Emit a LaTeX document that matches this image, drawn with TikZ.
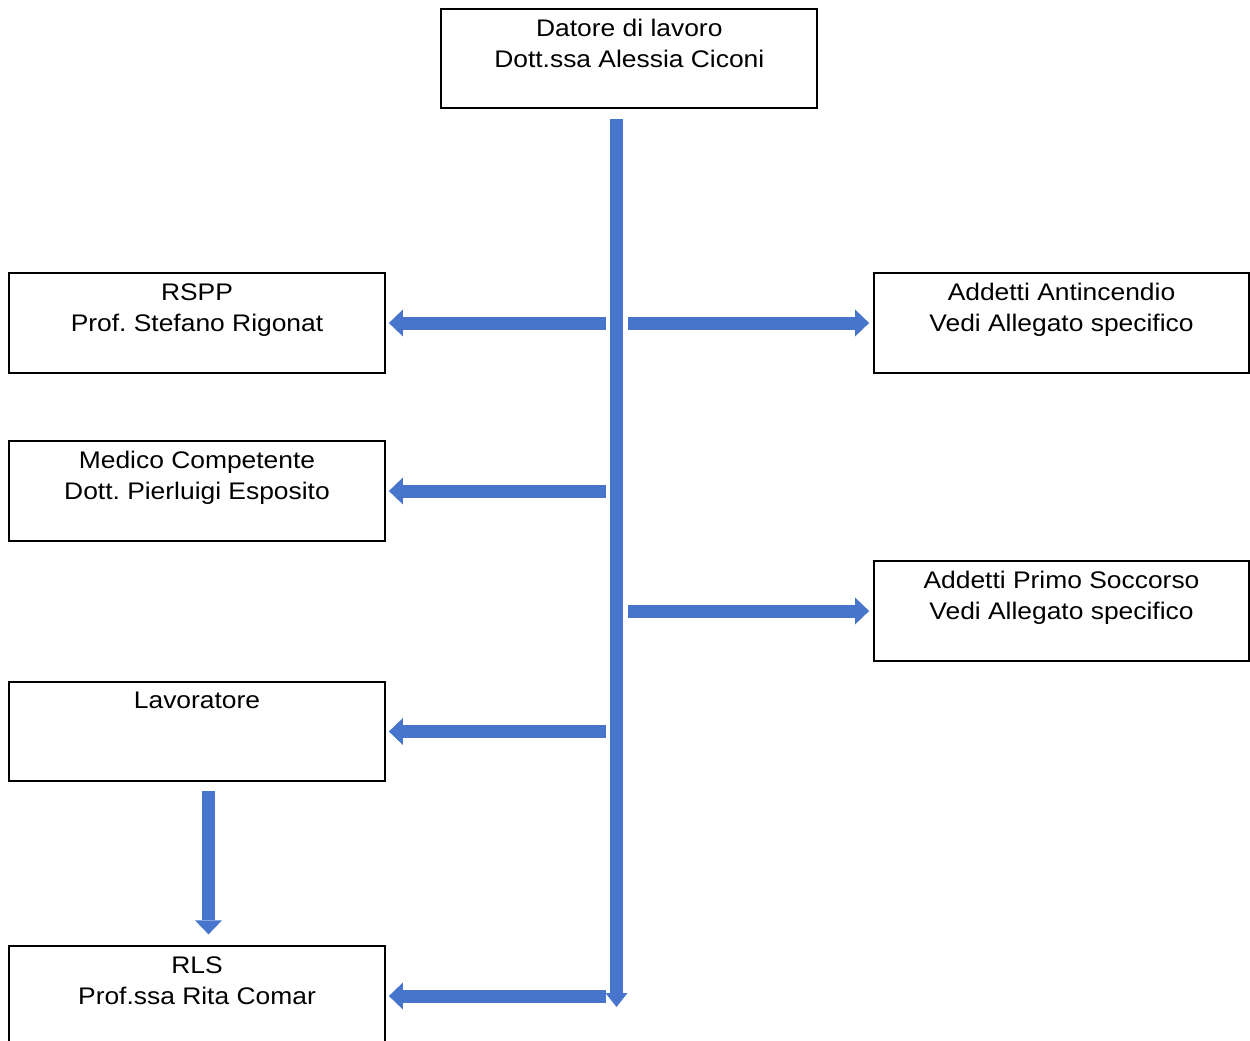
\documentclass[tikz,border=0pt]{standalone}
\usepackage{fontspec}
\setmainfont{Liberation Sans}[FakeStretch=1.1]
\usetikzlibrary{arrows.meta}
\frenchspacing
\definecolor{arrowblue}{RGB}{70,117,203}
\tikzset{
  box/.style={draw=black, line width=1.8pt, minimum width=376pt, minimum height=99.5pt, inner sep=0pt},
  lbl/.style={anchor=north, inner sep=0pt, align=center, font=\fontsize{24}{31}\selectfont, yshift=-11pt},
  blockarrow/.style={draw=arrowblue, line width=13pt, -{Triangle[width=27pt,length=14pt,line width=0pt]}},
  trunkarrow/.style={draw=arrowblue, line width=13pt, -{Triangle[width=22pt,length=14pt,line width=0pt]}},
}
\begin{document}
\begin{tikzpicture}[x=1pt,y=-1pt]
\useasboundingbox (0,0) rectangle (1250,1041);
% boxes
\node[box, minimum height=99pt] (dl) at (629.3,58.5) {};
\node[lbl] (dlt) at (dl.north) {Datore di lavoro\\Dott.ssa Alessia Ciconi};
\node[box] (rspp) at (197,323) {};
\node[lbl] (rsppt) at (rspp.north) {RSPP\\Prof. Stefano Rigonat};
\node[box, minimum width=375pt] (anti) at (1061.5,323) {};
\node[lbl] (antit) at (anti.north) {Addetti Antincendio\\Vedi Allegato specifico};
\node[box] (med) at (197,491) {};
\node[lbl] (medt) at (med.north) {Medico Competente\\Dott. Pierluigi Esposito};
\node[box, minimum width=375pt] (primo) at (1061.5,611) {};
\node[lbl] (primot) at (primo.north) {Addetti Primo Soccorso\\Vedi Allegato specifico};
\node[box] (lav) at (197,731.5) {};
\node[lbl] (lavt) at (lav.north) {Lavoratore};
\node[box] (rls) at (197,996) {};
\node[lbl] (rlst) at (rls.north) {RLS\\Prof.ssa Rita Comar};
% trunk
\coordinate (tt) at (616.5,119);
\coordinate (tb) at (616.5,1007);
\coordinate (tl) at (605.7,0);
\coordinate (tr) at (628,0);
\draw[trunkarrow] (tt) -- (tb);
% branches
\draw[blockarrow] (tl |- rspp.east) -- ([xshift=3pt]rspp.east);
\draw[blockarrow] (tr |- anti.west) -- ([xshift=-4pt]anti.west);
\draw[blockarrow] (tl |- med.east) -- ([xshift=3pt]med.east);
\draw[blockarrow] (tr |- primo.west) -- ([xshift=-4pt]primo.west);
\draw[blockarrow] (tl |- lav.east) -- ([xshift=3pt]lav.east);
\draw[blockarrow] (tl |- rls.east) -- ([xshift=3pt]rls.east);
\draw[blockarrow] ([xshift=11.5pt,yshift=-8.5pt]lav.south) -- ([xshift=11.5pt,yshift=11pt]rls.north);
\end{tikzpicture}
\end{document}
